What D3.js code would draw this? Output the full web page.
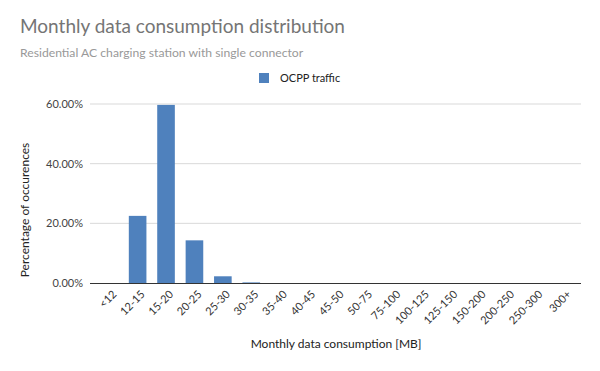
<!DOCTYPE html>
<html>
<head>
<meta charset="utf-8">
<script src="https://cdn.jsdelivr.net/npm/d3@7"></script>
<style>
    body { margin: 0; background: #fff; }
    svg { display: block; font-family: Lato, "Open Sans", sans-serif; }
</style>
</head>
<body>
<svg id="chart" width="600" height="371"></svg>
<script>
const categories = ['<12', '12-15', '15-20', '20-25', '25-30', '30-35', '35-40', '40-45', '45-50',
    '50-75', '75-100', '100-125', '125-150', '150-200', '200-250', '250-300', '300+'];
const ocppTraffic = [0, 0.225, 0.597, 0.143, 0.0225, 0.002, 0, 0, 0, 0, 0, 0, 0, 0, 0, 0, 0];
const yTicks = [0, 0.2, 0.4, 0.6];

const svg = d3.select('#chart');
const margin = { top: 104, right: 22, bottom: 88, left: 95 };
const width = 600, height = 371;
const innerW = width - margin.left - margin.right;
const innerH = height - margin.top - margin.bottom;

const x = d3.scaleBand().domain(categories).range([0, innerW]).paddingInner(0.38).paddingOuter(0.19);
const y = d3.scaleLinear().domain([0, 0.6]).range([innerH, 0]);

svg.append('text')
    .attr('x', 20).attr('y', 33)
    .attr('font-size', 19).attr('fill', '#757575')
    .text('Monthly data consumption distribution');

svg.append('text')
    .attr('x', 20).attr('y', 57)
    .attr('font-size', 12.2).attr('fill', '#999')
    .text('Residential AC charging station with single connector');

// legend
svg.append('rect').attr('x', 259).attr('y', 73).attr('width', 10).attr('height', 10).attr('fill', '#4f81bd');
svg.append('text').attr('x', 280).attr('y', 82).attr('font-size', 11).attr('fill', '#222').text('OCPP traffic');

const g = svg.append('g').attr('transform', `translate(${margin.left},${margin.top})`);

// gridlines
g.append('g')
    .selectAll('line')
    .data(yTicks.slice(1))
    .join('line')
    .attr('x1', -5).attr('x2', innerW + 3)
    .attr('y1', d => y(d)).attr('y2', d => y(d))
    .attr('stroke', '#d9d9d9');

const yAxis = g.append('g')
    .call(d3.axisLeft(y).tickValues(yTicks).tickFormat(d3.format('.2%')).tickSize(0).tickPadding(12));
yAxis.select('.domain').remove();
yAxis.selectAll('text').attr('font-size', 11).attr('fill', '#444').attr('font-family', 'Lato, sans-serif');

g.selectAll('.bar')
    .data(categories.map((c, i) => ({ cat: c, value: ocppTraffic[i] })))
    .join('rect')
    .attr('class', 'bar')
    .attr('x', d => x(d.cat))
    .attr('y', d => y(d.value))
    .attr('width', x.bandwidth())
    .attr('height', d => innerH - y(d.value))
    .attr('fill', '#4f81bd');

const xAxis = g.append('g')
    .attr('transform', `translate(0,${innerH})`)
    .call(d3.axisBottom(x).tickSize(0).tickPadding(0));
xAxis.select('.domain').attr('stroke', '#333').attr('d', `M-5,0.5H${innerW + 3}`);
xAxis.selectAll('text')
    .attr('font-size', 11).attr('fill', '#333').attr('font-family', 'Lato, sans-serif')
    .attr('text-anchor', 'end')
    .attr('dy', null).attr('y', 0)
    .attr('transform', 'translate(8,12) rotate(-45)');

svg.append('text')
    .attr('x', 336).attr('y', 348)
    .attr('text-anchor', 'middle')
    .attr('font-size', 12).attr('fill', '#222')
    .text('Monthly data consumption [MB]');

svg.append('text')
    .attr('transform', 'translate(29,210) rotate(-90)')
    .attr('text-anchor', 'middle')
    .attr('font-size', 12).attr('fill', '#222')
    .text('Percentage of occurences');
</script>
</body>
</html>
